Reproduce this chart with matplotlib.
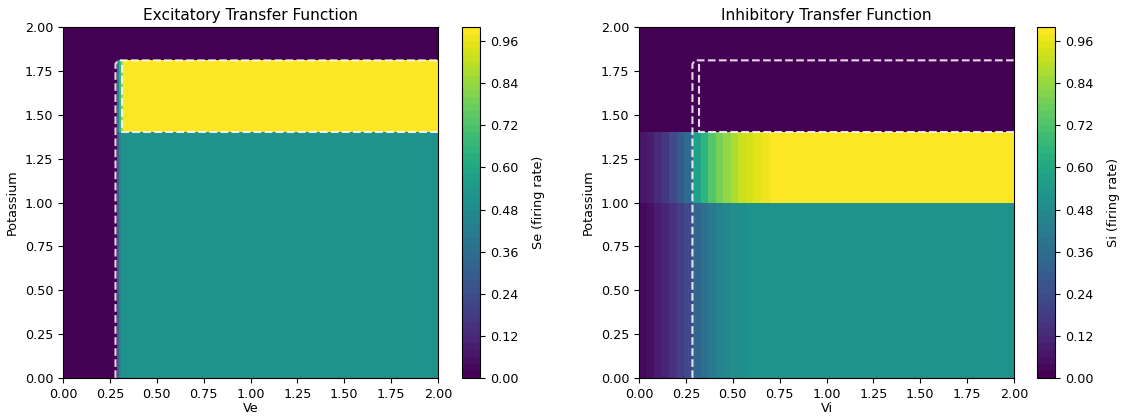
"""Excitatory / inhibitory transfer function maps (Se, Si over V and potassium)."""

import matplotlib

matplotlib.use("Agg")
import matplotlib.pyplot as plt
import numpy as np
from matplotlib.colors import BoundaryNorm

# --- excitatory panel: piecewise field ---
ve_edges = [0.0, 0.29, 0.30, 0.31, 0.32, 2.0]
ke_edges = [0.0, 1.40, 1.81, 2.0]
se_low = [0.0, 0.30, 0.45, 0.50, 0.50]    # potassium 0 - 1.40
se_mid = [0.0, 0.45, 0.65, 0.85, 0.99]    # potassium 1.40 - 1.81
se_high = [0.0, 0.0, 0.0, 0.0, 0.0]       # potassium 1.81 - 2.00

# --- inhibitory panel ---
vi_edges = [0.0, 0.04, 0.08, 0.12, 0.16, 0.20, 0.24, 0.29, 0.33, 0.37,
            0.41, 0.45, 0.49, 0.53, 0.57, 0.61, 0.65, 0.70, 2.0]
ki_edges = [0.0, 1.0, 1.40, 2.0]
si_low = [0.03, 0.05, 0.08, 0.11, 0.14, 0.18, 0.22, 0.33, 0.37, 0.41,
          0.44, 0.46, 0.48, 0.49, 0.50, 0.50, 0.50, 0.50]
si_mid = [0.06, 0.09, 0.13, 0.17, 0.22, 0.28, 0.35, 0.56, 0.64, 0.72,
          0.78, 0.83, 0.87, 0.90, 0.93, 0.95, 0.97, 0.99]
si_high = [0.0] * 18

# dashed boundary contours
e_outer_v = [0.28, 0.28, 0.295, 2.0]
e_outer_k = [0.0, 1.79, 1.81, 1.81]
e_inner_v = [2.0, 0.315, 0.315]
e_inner_k = [1.40, 1.40, 1.80]
i_outer_v = [0.285, 0.285, 0.30, 2.0]
i_outer_k = [0.0, 1.79, 1.81, 1.81]
i_inner_v = [2.0, 0.32, 0.32]
i_inner_k = [1.40, 1.40, 1.80]

levels = np.linspace(0.0, 1.0, 51)
cbar_ticks = [0.00, 0.12, 0.24, 0.36, 0.48, 0.60, 0.72, 0.84, 0.96]

plt.rcParams["font.size"] = 9.2

W, H, DPI = 1124, 416, 100
fig = plt.figure(figsize=(W / DPI, H / DPI), dpi=DPI)

ax_e = fig.add_axes([63 / W, 1 - 378 / H, 375 / W, 351 / H])
cax_e = fig.add_axes([462 / W, 1 - 378 / H, 18 / W, 351 / H])
ax_i = fig.add_axes([639 / W, 1 - 378 / H, 375 / W, 351 / H])
cax_i = fig.add_axes([1037 / W, 1 - 378 / H, 18 / W, 351 / H])

norm = BoundaryNorm(levels, 256)

panels = [
    (ax_e, cax_e, ve_edges, ke_edges, [se_low, se_mid, se_high],
     (e_outer_v, e_outer_k), (e_inner_v, e_inner_k),
     "Excitatory Transfer Function", "Ve", "Se (firing rate)"),
    (ax_i, cax_i, vi_edges, ki_edges, [si_low, si_mid, si_high],
     (i_outer_v, i_outer_k), (i_inner_v, i_inner_k),
     "Inhibitory Transfer Function", "Vi", "Si (firing rate)"),
]

for ax, cax, v_edges, k_edges, rows, outer, inner, title, xlabel, clabel in panels:
    mesh = ax.pcolormesh(v_edges, k_edges, np.array(rows), cmap="viridis",
                         norm=norm, shading="flat")
    for vs, ks in (outer, inner):
        ax.plot(vs, ks, color="white", ls="--", lw=1.5, alpha=0.85)
    ax.set_xlim(0, 2)
    ax.set_ylim(0, 2)
    ax.set_xticks(np.arange(0, 2.01, 0.25))
    ax.set_yticks(np.arange(0, 2.01, 0.25))
    ax.set_title(title, pad=5)
    ax.set_xlabel(xlabel, labelpad=1)
    ax.set_ylabel("Potassium")
    cb = fig.colorbar(mesh, cax=cax, ticks=cbar_ticks)
    cb.ax.minorticks_off()
    cb.ax.set_yticklabels([f"{t:.2f}" for t in cbar_ticks])
    cb.set_label(clabel, labelpad=10)

fig.savefig("out.png", dpi=DPI)
